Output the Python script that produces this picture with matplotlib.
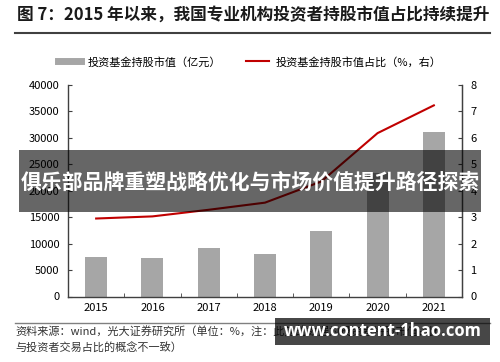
import matplotlib
matplotlib.use("Agg")
import matplotlib.pyplot as plt
from matplotlib.lines import Line2D
from matplotlib.patches import Rectangle

plt.rcParams['font.family'] = ['Noto Sans CJK SC', 'DejaVu Sans']

years = ['2015', '2016', '2017', '2018', '2019', '2020', '2021']
fund_value = [7400, 7200, 9150, 8100, 12350, 23400, 31200]
fund_share = [2.95, 3.03, 3.28, 3.55, 4.35, 6.18, 7.23]
left_ticks = [0, 5000, 10000, 15000, 20000, 25000, 30000, 35000, 40000]
right_ticks = [0, 1, 2, 3, 4, 5, 6, 7, 8]

W, H = 500, 362
fig = plt.figure(figsize=(5, 3.62), dpi=100)
fig.patch.set_facecolor('white')

def fx(px):
    return px / W

def fy(py):
    return 1 - py / H

ax = fig.add_axes([fx(68), fy(296.5), fx(462 - 68), (296.5 - 85) / H])
x = list(range(len(years)))
ax.bar(x, fund_value, width=0.39, color='#a6a6a6', zorder=2)
ax.set_xlim(-0.5, len(years) - 0.5)
ax.set_ylim(0, 40000)
ax.set_yticks(left_ticks)
ax.set_yticklabels([str(v) for v in left_ticks], fontsize=8)
ax.set_xticks(x)
ax.set_xticklabels(years, fontsize=8)
ax.set_xticks([i + 0.5 for i in x[:-1]], minor=True)
ax.tick_params(axis='x', which='major', length=0, pad=5)
ax.tick_params(axis='x', which='minor', length=3, direction='in', color='#404040')
ax.tick_params(axis='y', length=3, direction='in', color='#404040', pad=6)
ax.spines['top'].set_visible(False)
for s in ['left', 'bottom', 'right']:
    ax.spines[s].set_color('#404040')
    ax.spines[s].set_linewidth(1.0)

ax2 = ax.twinx()
ax2.plot(x, fund_share, color='#c00000', lw=1.5, zorder=3)
ax2.set_ylim(0, 8)
ax2.set_yticks(right_ticks)
ax2.set_yticklabels([str(v) for v in right_ticks], fontsize=8)
ax2.tick_params(axis='y', length=3, direction='in', color='#404040', pad=6)
ax2.spines['top'].set_visible(False)
ax2.spines['right'].set_color('#404040')
ax2.spines['left'].set_visible(False)
ax2.spines['bottom'].set_visible(False)

# Title
fig.text(fx(17), fy(15), '图 7：2015 年以来，我国专业机构投资者持股市值占比持续提升',
         fontsize=12, fontweight='bold', color='#1a1a1a', ha='left', va='center')
fig.add_artist(Line2D([fx(15), fx(490)], [fy(32.5), fy(32.5)], color='#404040', lw=1.5))

# Legend
handles = [Line2D([], [], color='#a6a6a6', lw=5),
           Line2D([], [], color='#c00000', lw=1.5)]
labels = ['投资基金持股市值（亿元）', '投资基金持股市值占比（%，右）']
fig.legend(handles, labels, ncol=2, loc='center', bbox_to_anchor=(0.5, fy(62)),
           frameon=False, fontsize=8, handlelength=2.1, handletextpad=0.6,
           columnspacing=2.2)

# Footer
fig.add_artist(Line2D([fx(15), fx(490)], [fy(322.5), fy(322.5)], color='#808080', lw=1))
fig.text(fx(15), fy(332), '资料来源：wind，光大证券研究所（单位：%，注：此处的数据为投资者持股市值占比，',
         fontsize=8, color='#333333', ha='left', va='center')
fig.text(fx(15), fy(348), '与投资者交易占比的概念不一致）',
         fontsize=8, color='#333333', ha='left', va='center')

# Overlay banner
fig.add_artist(Rectangle((fx(19), fy(212)), fx(481 - 19), (212 - 150) / H,
                         transform=fig.transFigure, facecolor='black', alpha=0.6,
                         edgecolor='none', zorder=10))
fig.text(fx(250), fy(182), '俱乐部品牌重塑战略优化与市场价值提升路径探索',
         fontsize=15, fontweight='bold', color='white', ha='center', va='center', zorder=11)

# Watermark
fig.add_artist(Rectangle((fx(275), fy(345)), fx(490 - 275), (345 - 318) / H,
                         transform=fig.transFigure, facecolor='black', alpha=0.72,
                         edgecolor='none', zorder=10))
fig.text(fx(383), fy(331.5), 'www.content-1hao.com', fontsize=12, fontweight='bold',
         color='white', ha='center', va='center', zorder=11,
         family=['Open Sans', 'DejaVu Sans'])

fig.savefig('out.png', dpi=100)
